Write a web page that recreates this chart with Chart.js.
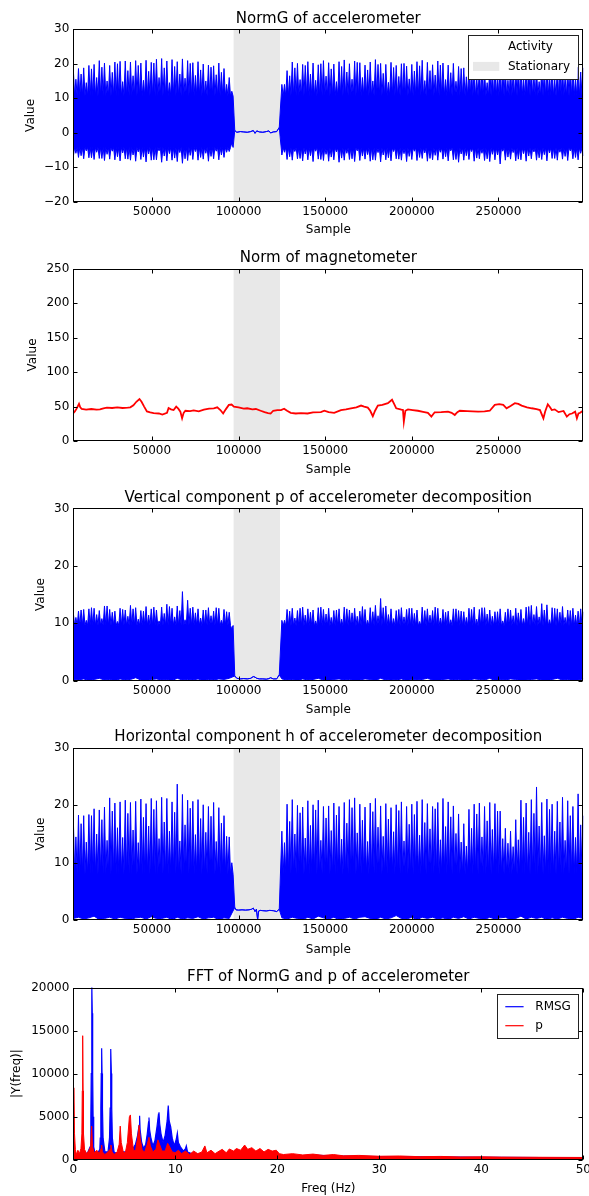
<!DOCTYPE html>
<html>
<head>
<meta charset="utf-8">
<script src="https://cdn.jsdelivr.net/npm/chart.js@4"></script>
<style>
  html, body { margin: 0; padding: 0; background: #fff; }
  #wrap { position: relative; width: 589px; height: 1196px; overflow: hidden; }
  canvas { position: absolute; left: 0; }
</style>
</head>
<body>
<div id="wrap">
  <canvas id="normg" width="589" height="240" style="top:0"></canvas>
  <canvas id="mag" width="589" height="240" style="top:240px"></canvas>
  <canvas id="vert" width="589" height="240" style="top:480px"></canvas>
  <canvas id="horiz" width="589" height="240" style="top:720px"></canvas>
  <canvas id="fft" width="589" height="236" style="top:960px"></canvas>
</div>
<script>
// --- data ---
const sampleRange = [4600, 299000];
const sampleTicks = [50000, 100000, 150000, 200000, 250000];
const freqTicks = [0, 10, 20, 30, 40, 50];
const stationarySpan = [97000, 124000];

// walking bouts: one step every spikeStep samples (a main spike and a minor spike per step)
const spikeStep = 3000;
const boutStart = [4600, 125000];

// NormG of accelerometer: dense band edges per bout, spikes above and below it
const normgBandTop = [10.6, 10.6];
const normgBandBottom = [-4.3, -4.4];
const normgPeaksA = [18.5, 18.6, 18.8, 19.5, 19.8, 20.9, 20.2, 19.5, 20.5, 20.7, 20.8, 20.5, 20.9, 20.2, 21.0, 20.4, 21.3, 21.5, 20.8, 21.2, 20.6, 21.4, 20.9, 20.3, 20.6, 19.9, 19.6, 19.4, 20.2, 18.6, 16.0];
const normgMinorA = [15.5, 17.0, 14.5, 18.5, 16.0, 19.0, 15.0, 17.5, 20.0, 14.8, 18.0, 16.5, 19.5, 15.2, 17.8, 20.2, 16.0, 18.8, 14.5, 19.2, 17.0, 15.8, 20.1, 16.6, 18.2, 15.0, 19.0, 16.8, 17.5, 14.0, 12.0];
const normgTroughsA = [-7.0, -7.2, -7.6, -7.3, -7.8, -7.5, -8.1, -7.7, -7.9, -8.2, -7.6, -8.0, -8.3, -7.8, -8.5, -8.0, -7.9, -8.6, -8.2, -8.0, -8.4, -8.9, -8.1, -7.8, -8.0, -7.7, -8.3, -7.6, -7.9, -7.2, -5.5];
const normgMinorTroughsA = [-6.0, -6.7, -5.3, -7.3, -5.7, -7.5, -6.3, -5.4, -7.0, -5.9, -7.7, -6.5, -5.6, -7.1, -6.2, -7.9, -5.3, -6.8, -6.1, -7.4, -5.8, -7.6, -6.6, -5.5, -7.2, -6.0, -6.9, -5.4, -6.5, -5.7, -3.0];
const normgPeaksB = [14.0, 18.0, 20.5, 20.1, 19.8, 20.6, 20.2, 19.7, 20.9, 20.3, 19.9, 20.6, 21.1, 20.0, 20.8, 20.3, 19.6, 20.5, 21.2, 20.1, 19.8, 20.4, 19.5, 20.0, 19.3, 19.8, 20.6, 21.0, 20.4, 19.7, 20.8, 20.2, 19.6, 20.1, 19.2, 18.8, 19.6, 18.5, 19.0, 18.3, 19.4, 18.7, 19.1, 18.6, 19.3, 18.9, 19.5, 18.4, 19.0, 18.8, 19.4, 18.5, 19.2, 18.9, 19.6, 18.7, 19.3, 19.0, 18.8];
const normgMinorB = [14.0, 16.5, 18.8, 15.4, 19.5, 17.0, 15.2, 20.0, 16.4, 18.5, 14.8, 19.2, 17.6, 15.5, 20.4, 16.0, 18.2, 15.0, 19.8, 17.2, 14.6, 18.9, 16.3, 20.1, 15.6, 17.9, 19.4, 15.1, 18.0, 16.7, 19.6, 15.4, 17.4, 14.9, 18.6, 16.2, 19.0, 15.7, 17.8, 14.5, 18.3, 16.9, 19.3, 15.2, 17.1, 18.8, 15.9, 19.9, 16.5, 14.8, 18.4, 17.0, 15.3, 19.1, 16.1, 18.7, 15.6, 17.6, 16.0];
const normgTroughsB = [-6.5, -7.8, -8.0, -7.6, -8.2, -7.9, -8.4, -7.7, -8.1, -8.3, -7.9, -8.6, -8.0, -7.8, -8.4, -8.1, -7.7, -8.3, -8.0, -8.5, -7.9, -8.2, -7.6, -8.0, -8.4, -7.8, -8.1, -7.5, -8.3, -7.9, -8.0, -7.7, -8.2, -7.9, -8.6, -8.0, -7.8, -8.3, -7.6, -8.1, -8.4, -7.9, -9.1, -8.0, -7.7, -8.2, -7.9, -8.3, -7.6, -8.0, -7.8, -8.2, -7.5, -8.0, -7.7, -8.1, -7.6, -7.9, -6.8];
const normgMinorTroughsB = [-5.7, -7.0, -5.5, -7.5, -6.2, -6.7, -5.4, -7.8, -6.3, -7.1, -5.6, -7.4, -6.0, -7.6, -5.3, -6.8, -6.4, -7.9, -5.8, -6.5, -7.3, -5.5, -7.7, -6.1, -6.9, -5.4, -7.2, -5.9, -7.5, -6.6, -5.7, -7.0, -5.3, -7.8, -6.2, -6.7, -5.5, -7.4, -6.0, -7.6, -6.3, -6.5, -5.4, -7.1, -5.8, -7.7, -6.1, -6.8, -5.6, -7.3, -6.4, -5.9, -7.5, -5.7, -6.9, -5.3, -7.2, -6.0, -5.5];
const restSamples = [97800, 99000, 101000, 103000, 105000, 107000, 108500, 109500, 110500, 112000, 114000, 116000, 117500, 118500, 120000, 122000, 123500];
const normgRest = [0.6, 0.1, 0.3, 0.2, 0.1, 0.3, 0.6, -0.2, 0.5, 0.2, 0.1, 0.3, 0.5, -0.1, 0.2, 0.3, 1.5];

// Norm of magnetometer
const magSamples = [4600, 5500, 6500, 7900, 8600, 9450, 12000, 15000, 18000, 20000, 22000, 24000, 27000, 30000, 33000, 36000, 37500, 39300, 41000, 42800, 44000, 45500, 47100, 49000, 51000, 54000, 56000, 58700, 59600, 61000, 62500, 64000, 65200, 66400, 67400, 68300, 69300, 72000, 74100, 77000, 80000, 83000, 85700, 87700, 89500, 91100, 92600, 94400, 96000, 97300, 100000, 103000, 105000, 108000, 110000, 112750, 115000, 117000, 118500, 120000, 122400, 124500, 126300, 128000, 130100, 133000, 136000, 139800, 143000, 147500, 149500, 152000, 155200, 159100, 162000, 164900, 168000, 170700, 172500, 174600, 176000, 177500, 178800, 180400, 183000, 186200, 188600, 190000, 191000, 194000, 194900, 195400, 196300, 197800, 200500, 203500, 206500, 209300, 211300, 213200, 217000, 220900, 223000, 224800, 226300, 227700, 232000, 238300, 242000, 245000, 247900, 250500, 252800, 254700, 257000, 259500, 261500, 263400, 266500, 269200, 272000, 274000, 275970, 277000, 278500, 279800, 280800, 282500, 284700, 287600, 289500, 291000, 292500, 294300, 295300, 296200, 297200, 298200, 299000];
const magValues = [40.5, 43, 47, 54, 49, 46.6, 45.5, 46.5, 45.5, 46, 47.5, 48.5, 48, 48.8, 48, 48.5, 49, 52, 57, 61, 57, 50, 43, 41.5, 40.5, 40, 38.5, 41, 48, 46, 45, 50, 47, 42.7, 33, 41, 44, 43.5, 44.5, 43, 45.5, 47, 47.5, 49, 45, 40, 46, 52.4, 53, 50, 49, 47, 47.6, 46, 46.5, 44, 42, 40.5, 40, 44, 45, 45, 47, 44, 41, 40, 40.5, 40, 41.5, 42, 44, 42, 41, 45, 46, 47.5, 49, 51.5, 50, 48.5, 44, 36, 44, 51.5, 52.5, 55, 60, 53, 47.5, 45.5, 45, 28, 44, 46, 45, 44, 42.5, 41, 35.4, 41.7, 42, 42.7, 41, 37.9, 42, 44, 43.5, 42.7, 43, 44, 52.4, 53.5, 52.4, 47.6, 51, 55, 54, 51.5, 49, 47.6, 46.5, 45, 33, 43, 53.4, 49, 45, 46, 42, 43.7, 35.4, 39, 40, 42.7, 33, 40, 41, 43, 42.7];

// Vertical component p: band top per bout, spikes above it, floor near zero
const pBandTop = [9.6, 9.5];
const pPeaksA = [11.8, 12.1, 12.4, 12.5, 12.6, 12.2, 13.0, 12.4, 12.1, 12.6, 12.3, 13.1, 12.7, 12.2, 12.9, 12.5, 12.3, 12.8, 13.3, 12.6, 13.0, 15.5, 14.0, 12.8, 12.5, 12.3, 12.7, 12.1, 12.6, 12.4, 11.9];
const pMinorA = [11.0, 12.3, 10.5, 12.7, 11.5, 10.8, 13.0, 11.9, 10.3, 12.4, 11.2, 12.5, 10.7, 12.1, 11.4, 12.8, 10.4, 11.7, 12.9, 11.1, 12.2, 10.6, 12.6, 11.8, 10.9, 12.3, 11.3, 12.7, 10.5, 12.0, 9.0];
const pFloorA = [0.2, 0.1, 0.3, 0.0, 0.2, 0.4, 0.1, 0.2, 0.0, 0.3, 0.1, 0.2, 0.5, 0.1, 0.0, 0.2, 0.3, 0.1, 0.2, 0.0, 0.4, 0.1, 0.2, 0.1, 0.3, 0.0, 0.2, 0.1, 0.3, 0.2, 0.4];
const pPeaksB = [10.5, 12.4, 12.6, 12.2, 12.8, 12.5, 12.3, 12.7, 12.4, 12.6, 12.2, 12.5, 12.8, 12.3, 12.6, 12.1, 12.4, 12.7, 13.1, 14.3, 13.0, 12.5, 12.2, 12.7, 12.4, 12.6, 12.3, 12.8, 12.5, 12.2, 12.6, 12.4, 12.1, 12.5, 12.2, 12.0, 12.6, 12.8, 12.4, 12.7, 12.3, 12.0, 12.5, 11.9, 12.3, 12.6, 12.4, 12.8, 13.1, 12.9, 13.4, 13.2, 12.7, 12.5, 12.9, 12.3, 12.6, 12.1, 12.0];
const pMinorB = [10.5, 12.1, 10.9, 12.6, 11.4, 11.9, 10.4, 12.8, 11.6, 11.0, 12.3, 10.7, 12.5, 11.8, 11.2, 12.9, 10.5, 12.0, 11.3, 12.7, 11.5, 10.8, 12.4, 11.1, 12.6, 11.7, 10.3, 12.2, 11.4, 12.8, 10.9, 11.9, 10.6, 12.5, 12.1, 11.0, 12.4, 10.7, 12.7, 11.6, 11.2, 12.0, 10.4, 12.5, 11.3, 11.8, 10.8, 12.9, 11.5, 11.1, 12.3, 10.6, 12.6, 11.9, 11.0, 12.2, 11.4, 12.5, 8.0];
const pFloorB = [0.3, 0.1, 0.2, 0.0, 0.3, 0.1, 0.2, 0.4, 0.1, 0.0, 0.2, 0.3, 0.1, 0.2, 0.0, 0.1, 0.3, 0.2, 0.0, 0.4, 0.1, 0.2, 0.1, 0.3, 0.0, 0.2, 0.1, 0.2, 0.4, 0.1, 0.0, 0.2, 0.3, 0.1, 0.2, 0.0, 0.1, 0.3, 0.2, 0.1, 0.4, 0.0, 0.2, 0.1, 0.3, 0.2, 0.0, 0.1, 0.2, 0.3, 0.1, 0.0, 0.2, 0.4, 0.1, 0.2, 0.0, 0.1, 0.3];
const pRest = [0.8, 0.4, 0.3, 0.35, 0.3, 0.4, 0.7, 0.6, 0.4, 0.3, 0.3, 0.25, 0.35, 0.5, 0.3, 0.3, 1.0];

// Horizontal component h
const hBandTop = [8.0, 8.0];
const hPeaksA = [18.0, 18.3, 18.2, 18.4, 19.4, 19.2, 19.7, 21.3, 20.4, 20.6, 20.9, 20.5, 20.7, 21.1, 20.3, 21.2, 20.8, 21.4, 21.2, 20.6, 23.7, 21.9, 20.9, 20.7, 21.0, 20.1, 19.8, 20.5, 19.6, 18.2, 14.5];
const hMinorA = [14.5, 16.8, 13.6, 18.2, 15.0, 17.5, 13.9, 19.0, 16.1, 14.4, 18.6, 15.7, 13.5, 17.9, 16.4, 19.3, 14.2, 17.1, 15.5, 18.8, 13.8, 16.6, 19.5, 14.9, 17.7, 15.3, 18.1, 13.7, 16.9, 14.6, 10.0];
const hFloorA = [0.3, 0.5, 0.2, 0.4, 0.7, 0.1, 0.3, 0.5, 0.2, 0.5, 0.3, 0.1, 0.4, 0.5, 0.2, 0.6, 0.3, 0.3, 0.5, 0.1, 0.5, 0.2, 0.4, 0.3, 0.6, 0.2, 0.4, 0.5, 0.1, 0.4, 0.3];
const hPeaksB = [15.5, 20.2, 21.0, 20.0, 19.7, 20.8, 20.1, 20.9, 19.8, 19.9, 20.4, 19.8, 20.5, 21.0, 21.3, 20.2, 19.7, 20.4, 21.2, 19.9, 20.3, 19.6, 20.1, 20.6, 19.8, 20.2, 20.7, 21.0, 20.3, 19.8, 20.5, 21.2, 20.6, 19.9, 18.5, 16.8, 19.3, 20.2, 20.4, 19.8, 20.5, 20.3, 19.0, 16.0, 15.5, 17.5, 20.9, 20.4, 21.0, 23.2, 20.5, 21.1, 20.2, 20.7, 21.4, 20.8, 19.8, 22.0, 18.2];
const hMinorB = [13.5, 17.2, 15.0, 18.7, 14.3, 16.5, 19.2, 13.9, 17.8, 15.6, 18.3, 14.1, 16.9, 19.6, 15.2, 17.4, 13.7, 18.9, 16.2, 14.6, 17.6, 15.4, 19.1, 13.8, 16.7, 18.4, 14.8, 17.0, 15.9, 19.4, 14.0, 16.3, 18.0, 15.1, 13.6, 12.9, 16.0, 18.5, 14.5, 17.3, 15.8, 19.0, 14.2, 13.4, 12.8, 14.0, 17.9, 15.3, 18.6, 16.4, 14.7, 19.3, 15.5, 17.1, 13.9, 18.2, 14.4, 16.6, 10.0];
const hFloorB = [0.4, 0.2, 0.5, 0.3, 0.1, 0.5, 0.2, 0.7, 0.4, 0.2, 0.5, 0.1, 0.3, 0.5, 0.2, 0.5, 0.6, 0.3, 0.1, 0.5, 0.2, 0.4, 0.8, 0.3, 0.2, 0.5, 0.1, 0.5, 0.3, 0.5, 0.2, 0.4, 0.1, 0.5, 0.3, 0.6, 0.2, 0.5, 0.3, 0.1, 0.5, 0.2, 0.4, 0.5, 0.1, 0.3, 0.7, 0.2, 0.5, 0.3, 0.5, 0.1, 0.4, 0.2, 0.5, 0.3, 0.1, 0.5, 0.3];
const hRestSamples = [97800, 98500, 100000, 102000, 104000, 106000, 107500, 108500, 109500, 110300, 111000, 111600, 112500, 114000, 116000, 118000, 120000, 122000, 123500];
const hRest = [2.2, 1.8, 1.75, 1.8, 1.75, 1.8, 1.9, 2.1, 1.5, 1.9, 0.1, 1.6, 1.7, 1.65, 1.6, 1.7, 1.65, 1.5, 1.9];

// FFT
const rmsgFreq = [0, 0.3, 0.6, 1.0, 1.4, 1.65, 1.72, 1.76, 1.8, 1.83, 1.86, 1.9, 1.94, 2.0, 2.1, 2.4, 2.6, 2.64, 2.7, 2.74, 2.78, 2.82, 2.86, 2.92, 3.1, 3.4, 3.55, 3.61, 3.65, 3.69, 3.73, 3.77, 3.83, 4.0, 4.3, 4.6, 4.9, 5.2, 5.5, 5.8, 6.1, 6.3, 6.45, 6.5, 6.55, 6.7, 6.9, 7.1, 7.25, 7.38, 7.42, 7.48, 7.6, 7.8, 8.0, 8.2, 8.35, 8.4, 8.47, 8.6, 8.8, 9.0, 9.2, 9.31, 9.4, 9.55, 9.7, 9.9, 10.1, 10.2, 10.3, 10.5, 10.8, 11.0, 11.08, 11.2, 11.6, 12.5, 14, 16, 18, 20, 22, 24, 26, 28, 30, 34, 38, 42, 46, 50];
const rmsgMag = [600, 500, 600, 700, 800, 1500, 5000, 10000, 17000, 20400, 17000, 10000, 5000, 1500, 900, 800, 1200, 2500, 6000, 10000, 12950, 10000, 6000, 2500, 900, 900, 2500, 6000, 10000, 12850, 10000, 6000, 2500, 900, 700, 800, 900, 900, 1000, 1200, 1800, 2800, 4000, 5100, 3500, 2000, 1300, 1800, 3000, 4400, 4900, 3500, 2600, 1600, 2200, 3800, 5300, 5500, 4200, 3000, 2000, 2800, 4500, 6300, 4500, 3800, 2500, 1600, 2400, 3100, 2000, 1500, 1000, 1300, 1600, 900, 700, 600, 550, 500, 500, 400, 420, 500, 420, 380, 350, 330, 300, 260, 250, 230];
const pFreq = [0, 0.05, 0.12, 0.2, 0.3, 0.45, 0.6, 0.75, 0.84, 0.88, 0.92, 0.96, 1.0, 1.1, 1.3, 1.5, 1.7, 1.8, 1.88, 2.05, 2.3, 2.55, 2.72, 2.78, 2.85, 3.1, 3.4, 3.6, 3.69, 3.8, 4.0, 4.3, 4.5, 4.6, 4.7, 4.9, 5.1, 5.3, 5.5, 5.6, 5.7, 5.9, 6.1, 6.3, 6.45, 6.55, 6.75, 7.0, 7.25, 7.42, 7.55, 7.8, 8.1, 8.3, 8.45, 8.7, 9.0, 9.25, 9.4, 9.7, 10.0, 10.3, 10.6, 11.0, 11.4, 11.8, 12.2, 12.6, 12.9, 13.1, 13.5, 13.9, 14.3, 14.6, 15.0, 15.3, 15.7, 16.0, 16.4, 16.8, 17.1, 17.5, 17.9, 18.3, 18.7, 19.1, 19.5, 19.9, 20.2, 20.6, 21.5, 22.5, 23.5, 24.5, 25.5, 26.5, 28, 30, 32, 34, 36, 38, 40, 42, 44, 46, 48, 50];
const pMag = [4000, 8350, 3000, 1200, 600, 1100, 700, 1300, 3000, 8000, 14400, 8000, 3000, 1200, 700, 1000, 1500, 3900, 1500, 800, 1100, 700, 1300, 1700, 900, 600, 900, 1200, 1700, 900, 600, 900, 1800, 3900, 2000, 900, 800, 2000, 5000, 5200, 3000, 1100, 1000, 2500, 4000, 2500, 1100, 900, 1800, 2600, 1600, 900, 1200, 2300, 1800, 1000, 1000, 1900, 1600, 900, 800, 1100, 700, 1000, 600, 1000, 700, 900, 1600, 800, 1100, 700, 1000, 1200, 800, 1250, 1000, 1300, 1100, 1700, 1200, 1400, 1000, 1300, 900, 1200, 1000, 1100, 700, 600, 700, 550, 650, 500, 600, 450, 500, 400, 430, 350, 380, 320, 330, 300, 290, 280, 270, 260];

// --- helpers ---
const BLUE = '#0000ff', RED = '#ff0000', SHADE = '#e8e8e8';
Chart.defaults.font.family = '"DejaVu Sans", sans-serif';
Chart.defaults.color = '#000';

const series = (xs, ys) => xs.map((x, i) => ({ x, y: ys[i] }));

// each step: main spike, back to the band edge, minor spike, back to the band edge
function spikeTrain(start, band, major, minor) {
  const q = spikeStep / 4;
  const pts = [];
  major.forEach((v, i) => {
    const s = start + i * spikeStep;
    pts.push({ x: s, y: v }, { x: s + q, y: band }, { x: s + 2 * q, y: minor[i] }, { x: s + 3 * q, y: band });
  });
  return pts;
}
const stepwise = (start, vals) => vals.map((v, i) => ({ x: start + i * spikeStep, y: v }));

function shade(yTop) {
  return {
    data: [{ x: stationarySpan[0], y: yTop }, { x: stationarySpan[1], y: yTop }],
    borderWidth: 0, borderColor: 'transparent', backgroundColor: SHADE, fill: 'start', order: 9,
  };
}

// filled region between a lower and an upper envelope
function envelope(lower, upper) {
  return [
    { data: lower, borderColor: BLUE, borderWidth: 1, fill: false, order: 2 },
    { data: upper, borderColor: BLUE, borderWidth: 1, backgroundColor: BLUE, fill: '-1', order: 1 },
  ];
}

const framePlugin = {
  id: 'frame',
  afterDatasetsDraw(chart) {
    const { ctx, chartArea: a, scales: { x, y } } = chart;
    const L = Math.round(a.left) + 0.5, R = Math.round(a.right) - 0.5;
    const T = Math.round(a.top) + 0.5, B = Math.round(a.bottom) - 0.5;
    ctx.save();
    ctx.strokeStyle = '#000';
    ctx.lineWidth = 1;
    ctx.beginPath();
    x.ticks.forEach(t => {
      const px = Math.round(x.getPixelForValue(t.value)) + 0.5;
      ctx.moveTo(px, T); ctx.lineTo(px, T + 4);
      ctx.moveTo(px, B); ctx.lineTo(px, B - 4);
    });
    y.ticks.forEach(t => {
      const py = Math.round(y.getPixelForValue(t.value)) + 0.5;
      ctx.moveTo(L, py); ctx.lineTo(L + 4, py);
      ctx.moveTo(R, py); ctx.lineTo(R - 4, py);
    });
    ctx.stroke();
    ctx.strokeRect(L, T, R - L, B - T);
    ctx.restore();
  }
};

const legendPlugin = {
  id: 'boxLegend',
  afterDraw(chart, args, o) {
    const { ctx, chartArea: a } = chart;
    const left = Math.round(a.right - o.inset - o.width), top = Math.round(a.top + o.inset);
    ctx.save();
    ctx.fillStyle = '#fff';
    ctx.fillRect(left, top, o.width, o.height);
    ctx.strokeStyle = '#222';
    ctx.lineWidth = 1;
    ctx.strokeRect(left + 0.5, top + 0.5, Math.round(o.width), Math.round(o.height));
    ctx.font = '12px "DejaVu Sans"';
    ctx.textBaseline = 'middle';
    o.items.forEach(it => {
      const y = top + it.dy;
      if (it.kind === 'rect') {
        ctx.fillStyle = it.color;
        ctx.fillRect(left + o.handleX, y - 4.5, o.handleW, 9);
      } else if (it.kind === 'line') {
        ctx.strokeStyle = it.color;
        ctx.lineWidth = 1.2;
        ctx.beginPath();
        ctx.moveTo(left + o.handleX, y);
        ctx.lineTo(left + o.handleX + o.handleW, y);
        ctx.stroke();
      }
      ctx.fillStyle = '#000';
      ctx.fillText(it.label, left + o.textX, y);
    });
    ctx.restore();
  }
};

const AREA_LEFT = 73.3, AREA_RIGHT = 583.3, AREA_H = 172.2;

function makePanel(id, cfg) {
  const canvas = document.getElementById(id);
  const H = canvas.height;
  return new Chart(canvas, {
    type: 'line',
    data: { datasets: cfg.datasets },
    options: {
      responsive: false,
      animation: false,
      events: [],
      layout: { padding: { left: 0, right: canvas.width - AREA_RIGHT, top: 0, bottom: 0 } },
      elements: { point: { radius: 0 }, line: { tension: 0 } },
      plugins: {
        legend: { display: false },
        tooltip: { enabled: false },
        title: {
          display: true, text: cfg.title, fullSize: false, color: '#000',
          font: { size: 15, weight: 'normal' },
          padding: { top: cfg.top - 19.5, bottom: 1.5 },
        },
        boxLegend: cfg.legend || false,
      },
      scales: {
        x: {
          type: 'linear', min: cfg.xMin, max: cfg.xMax,
          afterBuildTicks: s => { s.ticks = cfg.xTicks.map(value => ({ value })); },
          ticks: { maxRotation: 0, autoSkip: false, padding: 3, font: { size: 12 }, color: '#000', callback: v => String(v) },
          grid: { display: false, drawTicks: false },
          border: { display: false },
          title: { display: true, text: cfg.xTitle, color: '#000', font: { size: 12 }, padding: { top: 0, bottom: cfg.xTitlePad } },
          afterFit: s => { s.height = H - (cfg.top + AREA_H); s.paddingLeft = 0; s.paddingRight = 0; },
        },
        y: {
          type: 'linear', min: cfg.yMin, max: cfg.yMax,
          ticks: {
            stepSize: cfg.yStep, padding: 4, font: { size: 12 }, color: '#000',
            callback: v => (v < 0 ? '\u2212' + (-v) : String(v)),
          },
          grid: { display: false, drawTicks: false },
          border: { display: false },
          title: { display: true, text: cfg.yTitle, color: '#000', font: { size: 12 }, padding: { top: cfg.yTitleX - 7.2, bottom: 0 } },
          afterFit: s => { s.width = AREA_LEFT; s.paddingTop = 0; s.paddingBottom = 0; },
        },
      },
    },
    plugins: [framePlugin, legendPlugin],
  });
}

const sampleAxis = { xMin: sampleRange[0], xMax: sampleRange[1], xTicks: sampleTicks, xTitle: 'Sample', xTitlePad: 2.5 };

makePanel('normg', {
  ...sampleAxis, title: 'NormG of accelerometer', top: 29.3, yTitleX: 31.3,
  yMin: -20, yMax: 30, yStep: 10, yTitle: 'Value',
  datasets: [
    shade(30),
    ...envelope(
      [...spikeTrain(boutStart[0], normgBandBottom[0], normgTroughsA, normgMinorTroughsA), ...series(restSamples, normgRest),
       ...spikeTrain(boutStart[1], normgBandBottom[1], normgTroughsB, normgMinorTroughsB)],
      [...spikeTrain(boutStart[0], normgBandTop[0], normgPeaksA, normgMinorA), ...series(restSamples, normgRest),
       ...spikeTrain(boutStart[1], normgBandTop[1], normgPeaksB, normgMinorB)]
    ),
  ],
  legend: {
    inset: 6, width: 109.6, height: 44, handleX: 5, handleW: 26.3, textX: 40,
    items: [
      { label: 'Activity', kind: 'none', dy: 11.4 },
      { label: 'Stationary', kind: 'rect', color: SHADE, dy: 31.4 },
    ],
  },
});

makePanel('mag', {
  ...sampleAxis, title: 'Norm of magnetometer', top: 28.85, yTitleX: 32.8,
  yMin: 0, yMax: 250, yStep: 50, yTitle: 'Value',
  datasets: [
    shade(250),
    { data: series(magSamples, magValues), borderColor: RED, borderWidth: 1.8, fill: false, order: 1 },
  ],
});

makePanel('vert', {
  ...sampleAxis, title: 'Vertical component p of accelerometer decomposition', top: 28.4, yTitleX: 41.3,
  yMin: 0, yMax: 30, yStep: 10, yTitle: 'Value',
  datasets: [
    shade(30),
    ...envelope(
      [...stepwise(boutStart[0], pFloorA), ...series(restSamples, pRest), ...stepwise(boutStart[1], pFloorB)],
      [...spikeTrain(boutStart[0], pBandTop[0], pPeaksA, pMinorA), ...series(restSamples, pRest),
       ...spikeTrain(boutStart[1], pBandTop[1], pPeaksB, pMinorB)]
    ),
  ],
});

makePanel('horiz', {
  ...sampleAxis, title: 'Horizontal component h of accelerometer decomposition', top: 27.95, yTitleX: 41.3,
  yMin: 0, yMax: 30, yStep: 10, yTitle: 'Value',
  datasets: [
    shade(30),
    ...envelope(
      [...stepwise(boutStart[0], hFloorA), ...series(hRestSamples, hRest), ...stepwise(boutStart[1], hFloorB)],
      [...spikeTrain(boutStart[0], hBandTop[0], hPeaksA, hMinorA), ...series(hRestSamples, hRest),
       ...spikeTrain(boutStart[1], hBandTop[1], hPeaksB, hMinorB)]
    ),
  ],
});

makePanel('fft', {
  title: 'FFT of NormG and p of accelerometer', top: 27.5, yTitleX: 17,
  xMin: 0, xMax: 50, xTicks: freqTicks, xTitle: 'Freq (Hz)', xTitlePad: 0,
  yMin: 0, yMax: 20000, yStep: 5000, yTitle: '|Y(freq)|',
  datasets: [
    { data: series(pFreq, pMag), borderColor: RED, backgroundColor: RED, borderWidth: 1, fill: 'origin', order: 1 },
    { data: series(rmsgFreq, rmsgMag), borderColor: BLUE, backgroundColor: BLUE, borderWidth: 1.2, fill: 'origin', order: 2 },
  ],
  legend: {
    inset: 6, width: 80.6, height: 44.4, handleX: 8.3, handleW: 18.3, textX: 38.3,
    items: [
      { label: 'RMSG', kind: 'line', color: BLUE, dy: 12.7 },
      { label: 'p', kind: 'line', color: RED, dy: 31.7 },
    ],
  },
});
</script>
</body>
</html>
